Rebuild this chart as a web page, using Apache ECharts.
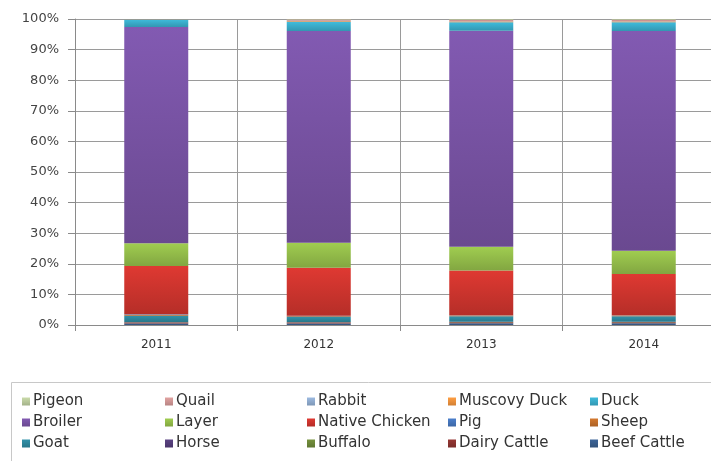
<!DOCTYPE html>
<html>
<head>
<meta charset="utf-8">
<script src="https://cdn.jsdelivr.net/npm/echarts@6/dist/echarts.min.js"></script>
<style>
  html, body { margin: 0; padding: 0; background: #ffffff; overflow: hidden; }
  #chart { width: 725px; height: 461px; }
</style>
</head>
<body>
<div id="chart"></div>
<script>
// Share of production by livestock type, per year (percent of total)
const years = ['2011', '2012', '2013', '2014'];
const yTicks = ['0%', '10%', '20%', '30%', '40%', '50%', '60%', '70%', '80%', '90%', '100%'];

// Stacked bottom to top
const beefCattle    = [0.5, 0.5, 0.6, 0.6];
const dairyCattle   = [0.3, 0.3, 0.3, 0.3];
const buffalo       = [0.1, 0.1, 0.1, 0.1];
const horse         = [0.05, 0.05, 0.05, 0.05];
const goat          = [2.1, 1.7, 1.8, 1.8];
const sheep         = [0.3, 0.25, 0.25, 0.25];
const pig           = [0.15, 0.1, 0.1, 0.1];
const nativeChicken = [15.8, 15.7, 14.6, 13.5];
const layer         = [7.4, 8.2, 7.8, 7.6];
const broiler       = [70.7, 69.2, 70.6, 71.8];
const duck          = [2.4, 2.9, 2.7, 2.8];
const muscovyDuck   = [0.1, 0.3, 0.3, 0.3];
const rabbit        = [0.05, 0.1, 0.1, 0.1];
const quail         = [0.05, 0.4, 0.45, 0.45];
const pigeon        = [0.0, 0.2, 0.25, 0.25];

const seriesDefs = [
  ['Beef Cattle', beefCattle, '#3a5f8f'],
  ['Dairy Cattle', dairyCattle, '#8e3431'],
  ['Buffalo', buffalo, '#6f8a3a'],
  ['Horse', horse, '#563f7c'],
  ['Goat', goat, '#2f8aa0'],
  ['Sheep', sheep, '#c8722c'],
  ['Pig', pig, '#4778c0'],
  ['Native Chicken', nativeChicken, '#d2362f'],
  ['Layer', layer, '#97c14b'],
  ['Broiler', broiler, '#7b55a8'],
  ['Duck', duck, '#3bb0cf'],
  ['Muscovy Duck', muscovyDuck, '#f3953e'],
  ['Rabbit', rabbit, '#93afd4'],
  ['Quail', quail, '#d59a98'],
  ['Pigeon', pigeon, '#bfcfa0']
];

function shade(hex, f) {
  const n = parseInt(hex.slice(1), 16);
  const r = Math.round(((n >> 16) & 255) * f);
  const g = Math.round(((n >> 8) & 255) * f);
  const b = Math.round((n & 255) * f);
  return 'rgb(' + Math.min(255, r) + ',' + Math.min(255, g) + ',' + Math.min(255, b) + ')';
}

const series = seriesDefs.map(([name, data, color]) => ({
  name: name,
  type: 'bar',
  stack: 'total',
  barWidth: 64,
  data: data,
  color: color,
  itemStyle: {
    color: {
      type: 'linear', x: 0, y: 0, x2: 0, y2: 1,
      colorStops: [
        { offset: 0, color: shade(color, 1.06) },
        { offset: 1, color: shade(color, 0.86) }
      ]
    }
  },
  emphasis: { disabled: true }
}));

// Legend laid out in five columns of three rows
const legendCols = [
  ['Pigeon', 'Broiler', 'Goat'],
  ['Quail', 'Layer', 'Horse'],
  ['Rabbit', 'Native Chicken', 'Buffalo'],
  ['Muscovy Duck', 'Pig', 'Dairy Cattle'],
  ['Duck', 'Sheep', 'Beef Cattle']
];
const colX = [17, 160, 302, 443, 585];

const legends = legendCols.map((names, i) => ({
  data: names,
  orient: 'vertical',
  left: colX[i],
  top: 389,
  itemWidth: 8,
  itemHeight: 8,
  itemGap: 6,
  icon: 'rect',
  selectedMode: false,
  textStyle: { fontFamily: 'DejaVu Sans', fontSize: 15, color: '#333', padding: [0, 0, 0, -2] }
}));

const chart = echarts.init(document.getElementById('chart'), null, { renderer: 'canvas' });
chart.setOption({
  animation: false,
  backgroundColor: '#ffffff',
  grid: { left: 75, top: 19, height: 306, width: 650, containLabel: false },
  legend: legends,
  graphic: [{
    type: 'rect',
    shape: { x: 11.5, y: 382.5, width: 740, height: 100 },
    style: { fill: 'none', stroke: '#c8c8c8', lineWidth: 1 },
    silent: true
  }],
  xAxis: {
    type: 'category',
    data: years,
    axisLine: { lineStyle: { color: '#8a8a8a', width: 1 } },
    axisTick: { show: true, length: 6, lineStyle: { color: '#8a8a8a' } },
    splitLine: { show: true, lineStyle: { color: '#9a9a9a', width: 1 } },
    axisLabel: { fontFamily: 'DejaVu Sans', fontSize: 12, color: '#333', margin: 14 }
  },
  yAxis: {
    type: 'value',
    min: 0,
    max: 100,
    interval: 10,
    axisLine: { show: true, lineStyle: { color: '#8a8a8a', width: 1 } },
    axisTick: { show: true, length: 7, lineStyle: { color: '#8a8a8a' } },
    splitLine: { show: true, lineStyle: { color: '#9a9a9a', width: 1 } },
    axisLabel: {
      fontFamily: 'DejaVu Sans', fontSize: 13, color: '#444', margin: 16,
      formatter: v => yTicks[Math.round(v / 10)]
    }
  },
  series: series
});
</script>
</body>
</html>
